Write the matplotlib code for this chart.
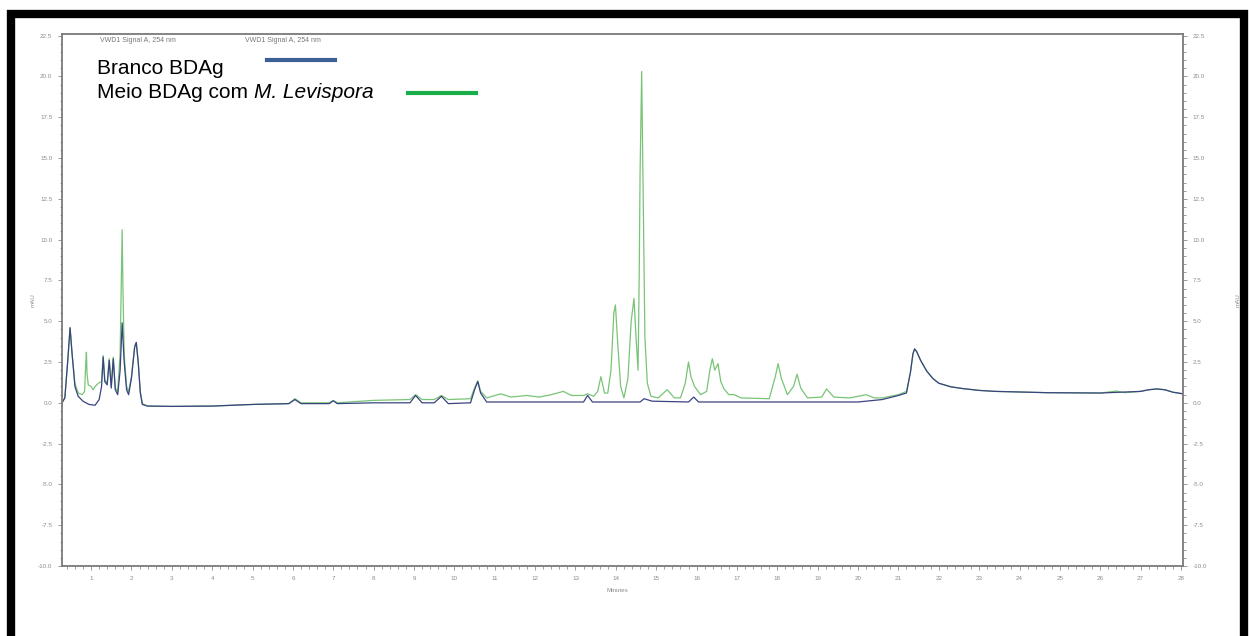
import matplotlib
matplotlib.use('Agg')
import matplotlib.pyplot as plt
from matplotlib.patches import Rectangle
from matplotlib.lines import Line2D
from matplotlib.ticker import MultipleLocator
import numpy as np

plt.rcParams['font.family'] = ['Liberation Sans', 'DejaVu Sans']

# retention time (min) and absorbance (mAU)
branco_t = [0.28, 0.35, 0.42, 0.48, 0.53, 0.60, 0.68, 0.80, 0.95, 1.10, 1.20, 1.26,
            1.30, 1.34, 1.40, 1.45, 1.50, 1.55, 1.60, 1.66, 1.72, 1.77, 1.82, 1.88,
            1.93, 2.00, 2.08, 2.12, 2.17, 2.22, 2.27, 2.40, 3.0, 4.0, 5.0, 5.9,
            6.05, 6.2, 6.9, 7.0, 7.1, 8.0, 8.9, 9.04, 9.2, 9.5, 9.68, 9.85,
            10.4, 10.5, 10.58, 10.65, 10.8, 12.0, 13.2, 13.3, 13.42, 14.6, 14.7, 14.9,
            15.8, 15.93, 16.05, 20.0, 20.6, 21.0, 21.2, 21.3, 21.36, 21.4, 21.45, 21.55,
            21.7, 21.85, 22.0, 22.3, 22.6, 23.0, 23.4, 24.7, 26.0, 27.0, 27.2, 27.4,
            27.6, 27.8, 28.05]
branco_mau = [0.0, 0.3, 2.5, 4.6, 3.0, 1.0, 0.4, 0.1, -0.1, -0.15, 0.2, 1.0,
              2.8, 1.3, 1.1, 2.6, 0.9, 2.7, 0.8, 0.5, 2.0, 4.9, 2.5, 0.8,
              0.5, 1.5, 3.4, 3.7, 2.4, 0.6, -0.1, -0.2, -0.22, -0.2, -0.1, -0.05,
              0.2, -0.05, -0.05, 0.12, -0.05, 0.0, 0.0, 0.45, 0.0, 0.0, 0.4, -0.05,
              0.0, 0.8, 1.3, 0.6, 0.05, 0.05, 0.05, 0.45, 0.05, 0.05, 0.25, 0.1,
              0.05, 0.35, 0.05, 0.05, 0.2, 0.45, 0.6, 1.9, 3.0, 3.3, 3.15, 2.6,
              1.95, 1.5, 1.2, 0.98, 0.87, 0.76, 0.7, 0.62, 0.6, 0.7, 0.8, 0.85,
              0.8, 0.65, 0.55]

meio_t = [0.28, 0.35, 0.42, 0.48, 0.53, 0.60, 0.68, 0.78, 0.84, 0.87, 0.885, 0.90,
          0.93, 1.0, 1.05, 1.10, 1.18, 1.26, 1.30, 1.34, 1.40, 1.45, 1.50, 1.55,
          1.60, 1.66, 1.72, 1.75, 1.77, 1.79, 1.82, 1.88, 1.93, 2.00, 2.08, 2.12,
          2.17, 2.22, 2.27, 2.40, 3.0, 4.0, 5.0, 5.9, 6.05, 6.2, 6.9, 7.0,
          7.1, 8.0, 8.9, 9.04, 9.2, 9.5, 9.68, 9.85, 10.4, 10.5, 10.58, 10.65,
          10.8, 11.15, 11.4, 11.8, 12.1, 12.4, 12.7, 12.9, 13.2, 13.3, 13.45, 13.55,
          13.63, 13.72, 13.8, 13.88, 13.95, 13.99, 14.05, 14.12, 14.2, 14.3, 14.38, 14.45,
          14.5, 14.55, 14.58, 14.6, 14.64, 14.68, 14.72, 14.78, 14.87, 15.05, 15.27, 15.45,
          15.6, 15.72, 15.8, 15.86, 15.95, 16.1, 16.25, 16.33, 16.39, 16.45, 16.53, 16.6,
          16.68, 16.8, 16.93, 17.1, 17.8, 17.95, 18.02, 18.1, 18.25, 18.4, 18.49, 18.58,
          18.75, 19.1, 19.22, 19.4, 19.8, 20.2, 20.4, 20.6, 21.0, 21.2, 21.3, 21.36,
          21.4, 21.45, 21.55, 21.7, 21.85, 22.0, 22.3, 22.6, 23.0, 23.4, 24.7, 26.0,
          26.4, 26.6, 27.0, 27.2, 27.4, 27.6, 27.8, 28.05]
meio_mau = [0.0, 0.3, 2.5, 4.6, 3.0, 1.2, 0.6, 0.5, 0.7, 2.5, 3.1, 1.8,
            1.1, 1.0, 0.8, 1.0, 1.2, 1.3, 2.9, 1.4, 1.2, 2.7, 1.0, 2.8,
            0.9, 0.7, 3.0, 7.5, 10.6, 7.0, 3.0, 1.0, 0.7, 1.6, 3.5, 3.7,
            2.5, 0.7, -0.05, -0.2, -0.22, -0.2, -0.1, -0.05, 0.25, 0.0, 0.0, 0.15,
            0.0, 0.15, 0.2, 0.5, 0.2, 0.2, 0.45, 0.2, 0.25, 0.9, 1.35, 0.7,
            0.3, 0.55, 0.35, 0.45, 0.35, 0.5, 0.7, 0.45, 0.45, 0.55, 0.4, 0.7,
            1.6, 0.6, 0.6, 2.0, 5.5, 6.0, 3.5, 1.0, 0.3, 1.5, 5.0, 6.4,
            4.0, 2.0, 8.0, 14.0, 20.3, 12.0, 4.0, 1.2, 0.4, 0.3, 0.8, 0.3,
            0.3, 1.2, 2.5, 1.6, 1.0, 0.5, 0.7, 2.0, 2.7, 2.0, 2.4, 1.3,
            0.85, 0.5, 0.5, 0.3, 0.25, 1.6, 2.4, 1.5, 0.5, 1.0, 1.75, 0.9,
            0.3, 0.35, 0.85, 0.35, 0.3, 0.5, 0.3, 0.3, 0.5, 0.7, 1.9, 3.0,
            3.3, 3.15, 2.6, 1.95, 1.5, 1.2, 0.98, 0.87, 0.76, 0.7, 0.62, 0.6,
            0.72, 0.62, 0.7, 0.8, 0.85, 0.8, 0.65, 0.55]

y_ticks = [-10.0, -7.5, -5.0, -2.5, 0.0, 2.5, 5.0, 7.5, 10.0, 12.5, 15.0, 17.5, 20.0, 22.5]
x_ticks = list(range(1, 29))

W, H = 1249, 636
fig = plt.figure(figsize=(W / 100, H / 100), dpi=100)
ax = fig.add_axes([62 / W, 1 - 566 / H, (1183 - 62) / W, (566 - 34) / H])

ax.plot(meio_t, meio_mau, color='#78c476', lw=0.9)
ax.plot(branco_t, branco_mau, color='#3a4380', lw=0.9)

ax.set_xlim(0.28, 28.05)
ax.set_ylim(-10, 22.6)
ax.set_xticks(x_ticks)
ax.set_yticks(y_ticks)
ax.set_yticklabels([f'{v:.1f}' for v in y_ticks])
ax.xaxis.set_minor_locator(MultipleLocator(0.2))
ax.yaxis.set_minor_locator(MultipleLocator(0.5))
ax.tick_params(which='both', right=True, labelright=True, direction='out',
               colors='#8c8c8c', labelsize=4.5, width=0.6, pad=4)
ax.tick_params(which='major', length=3)
ax.tick_params(which='minor', length=1.8)
for s in ax.spines.values():
    s.set_color('#7a7a7a')
    s.set_linewidth(1.3)

fig.text(617 / W, 1 - 590 / H, 'Minutes', fontsize=4.5, color='#8c8c8c', ha='center', va='center')
fig.text(33 / W, 1 - 300 / H, 'mAU', fontsize=4.5, color='#8c8c8c', rotation=90, ha='center', va='center')
fig.text(1238 / W, 1 - 300 / H, 'mAU', fontsize=4.5, color='#8c8c8c', rotation=90, ha='center', va='center')

# header labels from the instrument software
fig.text(100 / W, 1 - 41 / H, 'VWD1 Signal A, 254 nm', fontsize=5, color='#777777', va='center')
fig.text(245 / W, 1 - 41 / H, 'VWD1 Signal A, 254 nm', fontsize=5, color='#777777', va='center')

# legend drawn by hand as in the original
fig.text(97 / W, 1 - 68 / H, 'Branco BDAg', fontsize=15, va='center')
t1 = fig.text(97 / W, 1 - 92 / H, 'Meio BDAg com ', fontsize=15, va='center')
r = fig.canvas.get_renderer()
bb = t1.get_window_extent(renderer=r)
fig.text(bb.x1 / W, 1 - 92 / H, 'M. Levispora', fontsize=15, style='italic', va='center')
fig.add_artist(Line2D([267 / W, 335 / W], [1 - 60 / H] * 2, color='#3c5f96', lw=3,
                      transform=fig.transFigure))
fig.add_artist(Line2D([408 / W, 476 / W], [1 - 93 / H] * 2, color='#1aae4a', lw=3,
                      transform=fig.transFigure))

# thick black frame round the picture
fig.add_artist(Rectangle((11 / W, -0.1), (1244 - 11) / W, 0.1 + 1 - 14 / H,
                         transform=fig.transFigure, fill=False, ec='black', lw=6))

fig.savefig('out.png', dpi=100)
